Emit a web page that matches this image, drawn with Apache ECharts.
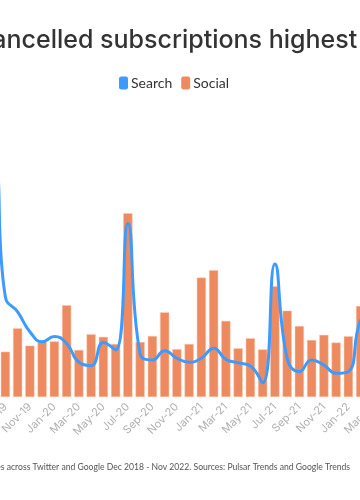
<!DOCTYPE html>
<html>
<head>
<meta charset="utf-8">
<script src="https://cdn.jsdelivr.net/npm/echarts@6/dist/echarts.min.js"></script>
<style>
html,body{margin:0;padding:0;width:360px;height:500px;overflow:hidden;background:#fff;}
#chart{position:absolute;left:-176px;top:0;width:700px;height:500px;}
</style>
</head>
<body>
<div id="chart"></div>
<script>
const months = ['Dec-18','Jan-19','Feb-19','Mar-19','Apr-19','May-19','Jun-19','Jul-19','Aug-19','Sep-19','Oct-19','Nov-19',
  'Dec-19','Jan-20','Feb-20','Mar-20','Apr-20','May-20','Jun-20','Jul-20','Aug-20','Sep-20','Oct-20','Nov-20',
  'Dec-20','Jan-21','Feb-21','Mar-21','Apr-21','May-21','Jun-21','Jul-21','Aug-21','Sep-21','Oct-21','Nov-21',
  'Dec-21','Jan-22','Feb-22','Mar-22','Apr-22','May-22','Jun-22','Jul-22','Aug-22','Sep-22','Oct-22','Nov-22'];
const searchValues = [40,45,42,50,55,60,70,76,82,35.1,29.9,22.9,
  19.4,21.2,18.8,12.2,11.0,19.1,16.5,60.9,15.1,13.0,16.2,13.6,
  12.2,13.6,17.1,13.2,12.0,10.9,5.0,46.7,13.6,8.9,13.0,11.2,
  8.3,8.9,27,30,18,12,20,10,14,11,9,12];
const socialValues = [22,25,20,28,24,30,26,35,45,15.9,24.1,18.0,
  19.4,19.5,32.2,16.5,22.0,21.1,18.6,64.5,19.3,21.4,29.7,16.8,
  18.6,41.9,44.5,26.7,17.1,20.6,16.7,38.9,30.3,24.9,20.0,21.8,
  19.1,21.3,31.9,25,22,20,35,18,24,20,19,21];
const titleText = 'Cancelled subscriptions highest in 2019';
const footerText = 'Mentions and searches across Twitter and Google Dec 2018 - Nov 2022. Sources: Pulsar Trends and Google Trends';

const chart = echarts.init(document.getElementById('chart'));
chart.setOption({
  animation:false,
  title:{text:titleText,left:145,top:23,textStyle:{fontFamily:'Inter',fontSize:25,fontWeight:500,color:'#333'}},
  legend:{data:['Search','Social'],left:'center',top:71,icon:'roundRect',itemWidth:9,itemHeight:13,itemGap:9,itemStyle:{borderWidth:0},
    textStyle:{fontFamily:'Lato',fontSize:14,color:'#333',padding:[0,0,0,-2]}},
  graphic:[{type:'text',right:174,top:463,style:{text:footerText,font:'8.6px Lato',fill:'#555',textAlign:'right'}}],
  grid:{left:65,right:47,top:112,bottom:103},
  xAxis:{type:'category',data:months,boundaryGap:true,axisTick:{show:false},axisLine:{show:false},
    axisLabel:{rotate:45,color:'#b0b0b0',fontFamily:'Inter',fontSize:11,margin:8,interval:(i)=>i%2===1}},
  yAxis:{type:'value',min:0,max:100,show:false,splitLine:{show:false}},
  series:[
    {name:'Search',type:'line',data:searchValues,smooth:true,symbol:'none',z:5,
      lineStyle:{color:'#3d9bff',width:3},itemStyle:{color:'#3d9bff'}},
    {name:'Social',type:'bar',data:socialValues,barCategoryGap:'25%',
      itemStyle:{color:'#ee8a5f',borderColor:'#f6c7b0',borderWidth:0.5}}
  ]
});
</script>
</body>
</html>
